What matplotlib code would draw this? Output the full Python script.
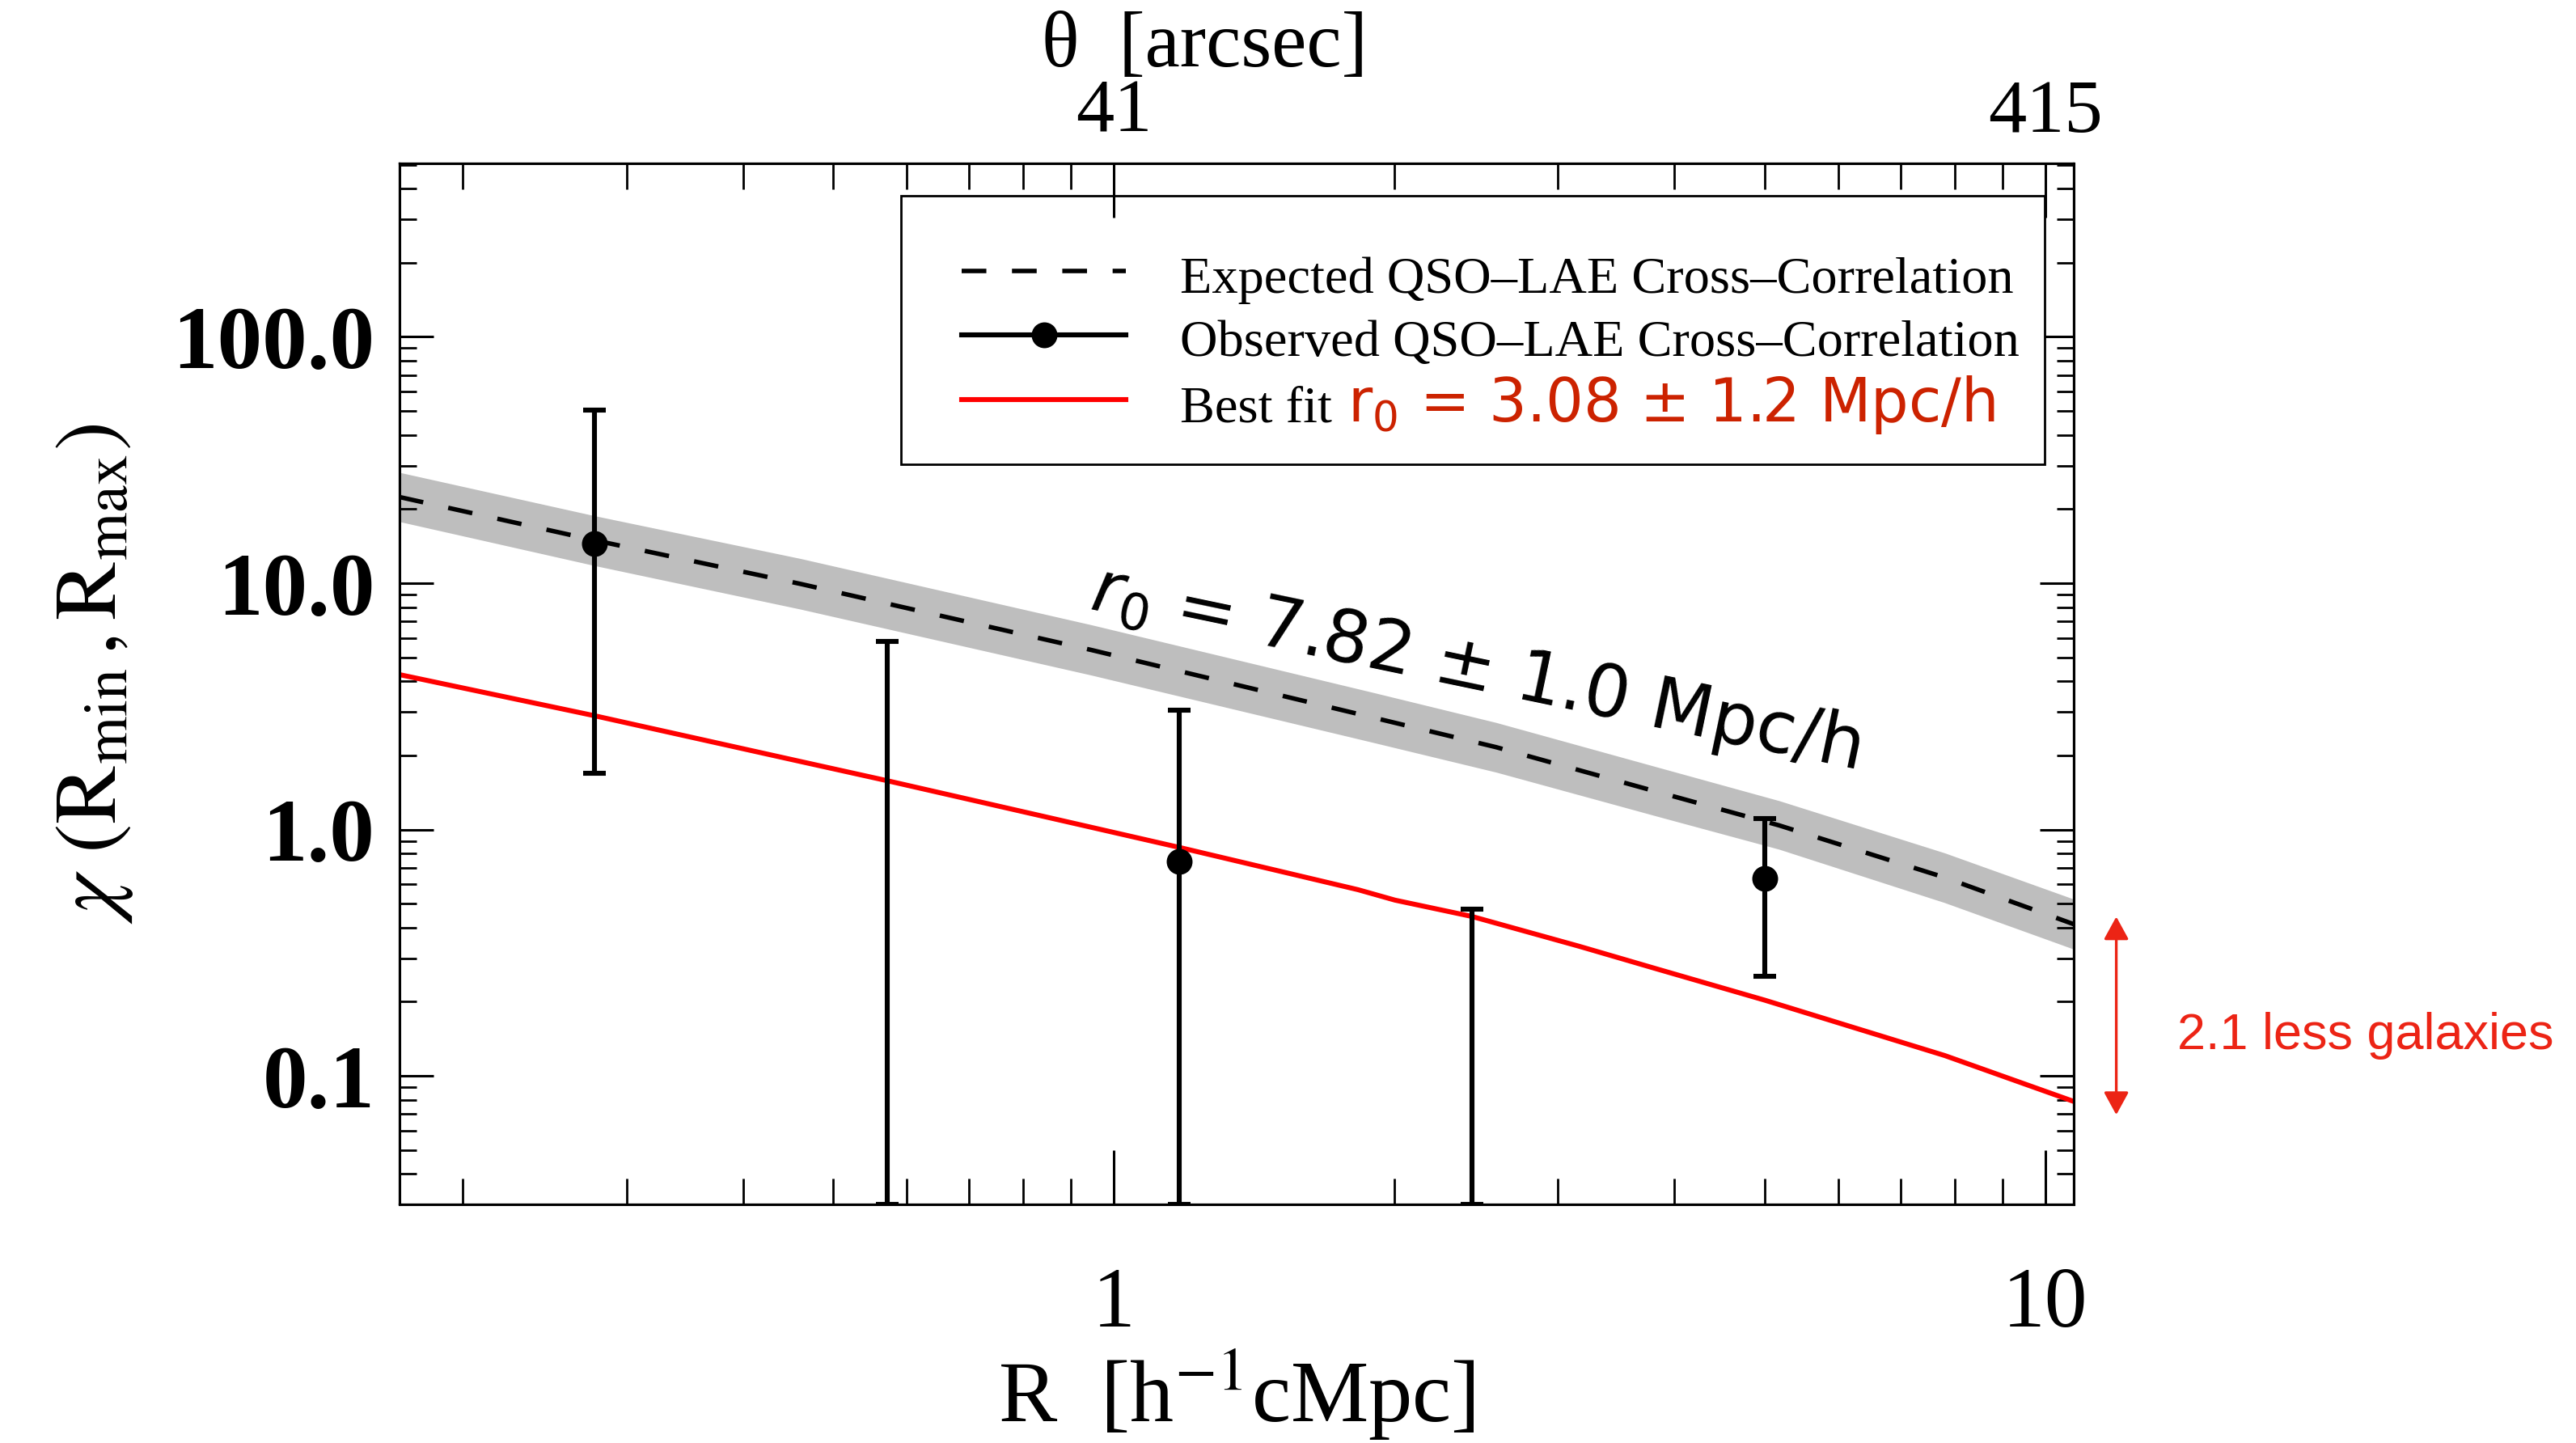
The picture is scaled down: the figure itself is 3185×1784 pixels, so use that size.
import matplotlib
matplotlib.use("Agg")
import matplotlib.pyplot as plt
from matplotlib.patches import Rectangle
from matplotlib.ticker import LogLocator, NullFormatter

plt.rcParams['font.family'] = 'serif'
plt.rcParams['font.serif'] = ['Liberation Serif', 'DejaVu Serif']
plt.rcParams['mathtext.fontset'] = 'stix'

# expected QSO-LAE cross-correlation (r0 = 7.82) with its uncertainty band
exp_R = [0.171, 0.277, 0.461, 0.948, 1.906, 2.574, 3.84, 5.18, 7.8, 10.73]
exp_chi = [22.4, 14.95, 9.94, 5.35, 2.84, 2.16, 1.42, 1.04, 0.639, 0.413]
exp_hi = [28.2, 18.8, 12.6, 6.77, 3.59, 2.72, 1.79, 1.31, 0.804, 0.522]
exp_lo = [17.8, 11.8, 7.85, 4.23, 2.25, 1.71, 1.13, 0.832, 0.505, 0.327]

# best fit (r0 = 3.08)
fit_R = [0.171, 0.277, 0.461, 0.571, 0.948, 1.177, 1.83, 2.005, 2.424, 3.16, 3.84, 5.0, 7.8, 10.73]
fit_chi = [4.26, 2.90, 1.89, 1.58, 1.02, 0.846, 0.570, 0.517, 0.444, 0.336, 0.271, 0.203, 0.121, 0.0788]

# observed points (None = no measured value, only the error bar is shown)
obs_R = [0.277, 0.571, 1.177, 2.424, 5.0]
obs_chi = [14.5, None, 0.743, None, 0.634]
obs_hi = [50.4, 5.80, 3.05, 0.475, 1.11]
obs_lo = [1.69, 0.03, 0.03, 0.03, 0.253]

x_ticks = [1, 10]
x_ticklabels = ['1', '10']
top_ticklabels = ['41', '415']
y_ticks = [0.1, 1, 10, 100]
y_ticklabels = ['0.1', '1.0', '10.0', '100.0']

fig = plt.figure(figsize=(15.925, 8.92), dpi=200)
ax = fig.add_axes([0.1551, 0.16536, 0.64992, 0.72141])
ax.set_xscale('log')
ax.set_yscale('log')
ax.set_xlim(0.1712, 10.73)
ax.set_ylim(0.0301, 506)

# band + lines
ax.fill_between(exp_R, exp_lo, exp_hi, color='#bebebe', lw=0, zorder=1)
ax.plot(exp_R, exp_chi, color='black', lw=2.0, dashes=(5.5, 5.7), zorder=3)
ax.plot(fit_R, fit_chi, color='red', lw=2.2, zorder=2)

# error bars
for R, c, hi, lo in zip(obs_R, obs_chi, obs_hi, obs_lo):
    if c is None:
        ax.errorbar([R], [hi], yerr=[[hi - lo], [0]], fmt='none', ecolor='black',
                    elinewidth=2.2, capsize=5, capthick=2.2, zorder=4)
    else:
        ax.errorbar([R], [c], yerr=[[c - lo], [hi - c]], fmt='o', color='black',
                    ms=10.5, elinewidth=2.2, capsize=5, capthick=2.2, zorder=4)

# ticks
ax.set_xticks(x_ticks)
ax.set_xticklabels(x_ticklabels, fontsize=38)
ax.xaxis.set_minor_locator(LogLocator(base=10, subs=range(2, 10)))
ax.xaxis.set_minor_formatter(NullFormatter())
ax.set_yticks(y_ticks)
ax.set_yticklabels(y_ticklabels, fontsize=40, fontweight='bold')
ax.yaxis.set_minor_locator(LogLocator(base=10, subs=range(2, 10)))
ax.yaxis.set_minor_formatter(NullFormatter())
ax.tick_params(axis='x', which='major', direction='in', length=24, width=1.1, pad=28, top=False)
ax.tick_params(axis='x', which='minor', direction='in', length=11.5, width=1.0, top=False)
ax.tick_params(axis='y', which='major', direction='in', length=15, width=1.1, pad=11, right=True)
ax.tick_params(axis='y', which='minor', direction='in', length=7.5, width=1.0, right=True)
for s in ax.spines.values():
    s.set_linewidth(1.1)

ax2 = ax.twiny()
ax2.set_xscale('log')
ax2.set_xlim(ax.get_xlim())
ax2.set_xticks(x_ticks)
ax2.set_xticklabels(top_ticklabels, fontsize=34)
ax2.xaxis.set_minor_locator(LogLocator(base=10, subs=range(2, 10)))
ax2.xaxis.set_minor_formatter(NullFormatter())
ax2.tick_params(axis='x', which='major', direction='in', length=24, width=1.1, pad=7)
ax2.tick_params(axis='x', which='minor', direction='in', length=11.5, width=1.0)

# axis labels
ax.set_xlabel(r'R  [h$^{-1}$cMpc]', fontsize=39)
ax.xaxis.set_label_coords(0.5, -0.137)
ax.set_ylabel(r'$\chi\ (\mathrm{R}_{\mathrm{min}}\,,\mathrm{R}_{\mathrm{max}})$', fontsize=39)
ax.yaxis.set_label_coords(-0.158, 0.51)
ax2.set_xlabel('\u03b8  [arcsec]', fontsize=35)
ax2.xaxis.set_label_coords(0.481, 1.093)

# legend drawn by hand
ax.add_patch(Rectangle((0.2995, 0.7107), 0.6831, 0.2585, transform=ax.transAxes,
                       facecolor='white', edgecolor='black', lw=1.0, zorder=5))
hx = [0.3357, 0.4338]
ax.plot(hx, [0.8963, 0.8963], transform=ax.transAxes, color='black', lw=2.0,
        dashes=(5.5, 5.7), zorder=6, clip_on=False)
ax.plot(hx, [0.8350, 0.8350], transform=ax.transAxes, color='black', lw=2.2, zorder=6, clip_on=False)
ax.plot([0.3848], [0.8350], 'o', transform=ax.transAxes, color='black', ms=10.5, zorder=6, clip_on=False)
ax.plot(hx, [0.7729, 0.7729], transform=ax.transAxes, color='red', lw=2.2, zorder=6, clip_on=False)
ax.text(0.4662, 0.8759, 'Expected QSO\u2013LAE Cross\u2013Correlation', transform=ax.transAxes,
        fontsize=23.2, va='baseline', ha='left', zorder=7)
ax.text(0.4662, 0.8148, 'Observed QSO\u2013LAE Cross\u2013Correlation', transform=ax.transAxes,
        fontsize=23.2, va='baseline', ha='left', zorder=7)
ax.text(0.4662, 0.7521, 'Best fit', transform=ax.transAxes,
        fontsize=23.2, va='baseline', ha='left', zorder=7)
ax.text(0.5662, 0.7521, r'$\mathrm{r}_0$ = 3.08 ± 1.2 Mpc/h', transform=ax.transAxes,
        fontsize=26.5, va='baseline', ha='left', color='#cc2200', zorder=7,
        family='DejaVu Sans', math_fontfamily='dejavusans')

# r0 annotation along the band
ax.text(0.938, 7.88, r'$\mathit{r}_{\mathit{0}}$ = 7.82 ± 1.0 Mpc/h', fontsize=32,
        rotation=-11.8, rotation_mode='anchor', ha='left', va='baseline',
        family='DejaVu Sans', math_fontfamily='dejavusans', zorder=6)

# arrow outside the axes
ax.annotate('', xy=(11.92, 0.443), xytext=(11.92, 0.0695),
            arrowprops=dict(arrowstyle='<|-|>,head_length=8.6,head_width=4.7',
                            color='#ec2415', lw=1.2, mutation_scale=1,
                            shrinkA=0, shrinkB=0),
            annotation_clip=False)
ax.text(13.85, 0.129, '2.1 less galaxies', fontsize=22.7, color='#ec2415',
        family='Liberation Sans', ha='left', va='baseline', clip_on=False)

fig.savefig('out.png', dpi=200)
